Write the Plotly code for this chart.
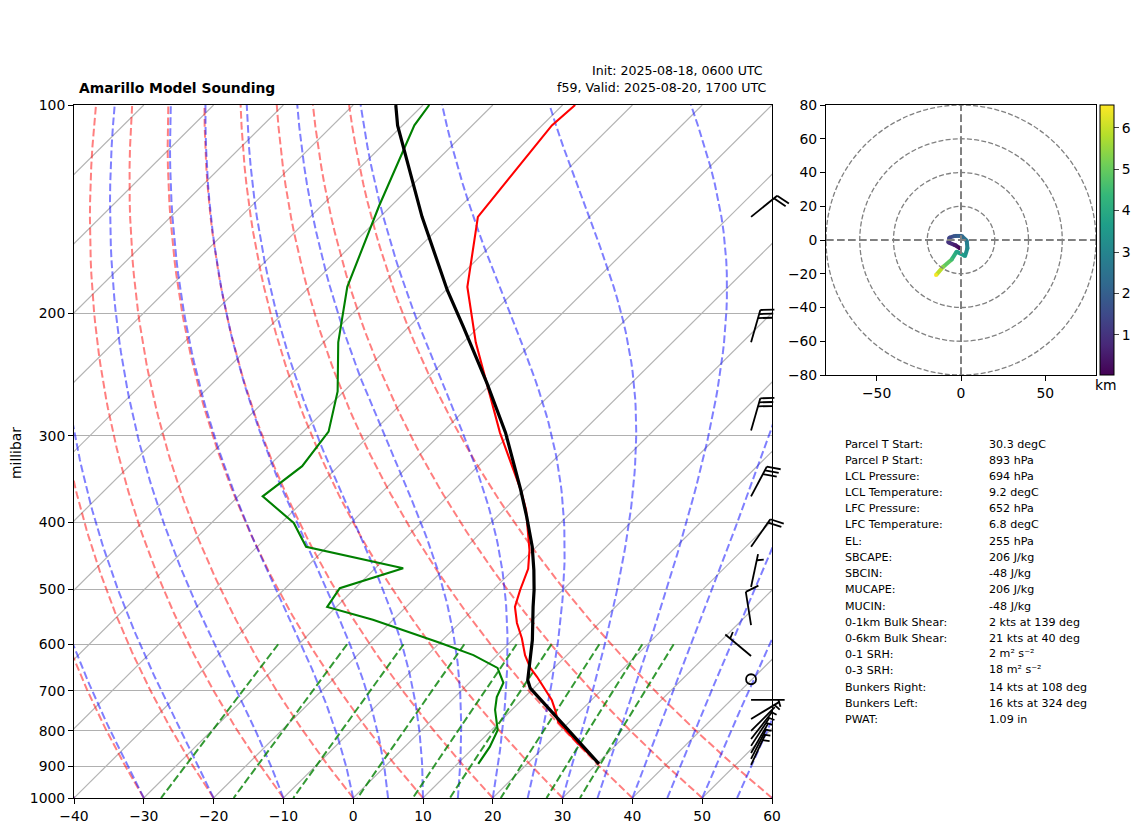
import numpy as np
import plotly.graph_objects as go
from plotly.colors import sample_colorscale

W, H = 1142, 832
FONT = "DejaVu Sans"

## sounding values
temp_p = [893, 833, 777, 746, 722, 669, 649, 622, 588, 559, 530, 501, 467, 439, 384, 359, 297, 252, 220, 183, 145, 107, 100]
temp_t = [30.3, 24.2, 18.4, 16.2, 14.3, 8.9, 6.6, 4.0, 1.1, -1.8, -4.4, -6.1, -8.0, -10.5, -16.8, -20.5, -31.7, -40.7, -48.2, -57.4, -66.0, -68.6, -68.2]

dewp_p = [893, 844, 798, 746, 715, 682, 649, 622, 597, 553, 530, 498, 466, 434, 401, 367, 332, 296, 259, 220, 183, 140, 107, 100]
dewp_t = [13.0, 12.2, 10.9, 7.6, 6.0, 4.9, 1.9, -3.4, -10.0, -22.9, -31.3, -32.2, -26.0, -43.0, -48.2, -56.5, -55.2, -56.4, -60.9, -67.9, -74.6, -81.7, -88.3, -89.1]

parcel_p = [893, 694, 676, 592, 530, 501, 469, 434, 393, 359, 297, 252, 209, 185, 145, 115, 107, 100]
parcel_t = [30.3, 9.5, 8.0, 2.9, -1.8, -4.1, -7.0, -10.6, -15.7, -20.5, -30.9, -40.7, -52.2, -59.8, -74.0, -86.8, -90.7, -93.9]

## wind barbs: pressure, speed in kts, direction in deg
barb_p = [145, 220, 295, 367, 434, 496, 563, 624, 674, 722, 769, 800, 822, 841, 861, 878, 896]
barb_spd = [20, 30, 30, 30, 20, 5, 10, 5, 0, 5, 5, 5, 5, 5, 5, 5, 5]
barb_dir = [51, 16, 16, 28, 35, 12, 351, 310, 0, 90, 59, 45, 38, 33, 30, 27, 25]

## hodograph
hodo_u = [-0.6, -3.6, -7.5, -6.9, -3.6, 0.4, 3.4, 3.8, 2.4, -2.6, -5.5, -10.5, -14.8]
hodo_v = [-4.9, -3.0, -1.4, 1.4, 2.4, 2.4, -0.4, -4.9, -9.5, -6.9, -11.5, -15.8, -20.8]
hodo_h = [0.05, 0.5, 1.0, 1.4, 1.8, 2.2, 2.7, 3.1, 3.5, 3.8, 4.5, 5.3, 6.5]
hodo_rings = [20, 40, 60, 80]
hodo_cmin, hodo_cmax = 0.03, 6.55

## start values of the thermodynamic reference curves
dry_t0 = list(range(-40, 61, 10))
moist_t0 = [-40, -30, -20, -10, 0, 5, 10, 15, 20, 25, 30, 35, 40, 45, 50, 55, 60]
mix_w = [0.0004, 0.001, 0.002, 0.004, 0.007, 0.01, 0.016, 0.024, 0.032]
isotherm_t = list(range(-140, 61, 10))

p_ticks = [100, 200, 300, 400, 500, 600, 700, 800, 900, 1000]
t_ticks = list(range(-40, 61, 10))

table_names = ["Parcel T Start:", "Parcel P Start:", "LCL Pressure:", "LCL Temperature:", "LFC Pressure:",
               "LFC Temperature:", "EL:", "SBCAPE:", "SBCIN:", "MUCAPE:", "MUCIN:", "0-1km Bulk Shear:",
               "0-6km Bulk Shear:", "0-1 SRH:", "0-3 SRH:", "Bunkers Right:", "Bunkers Left:", "PWAT:"]
table_vals = ["30.3 degC", "893 hPa", "694 hPa", "9.2 degC", "652 hPa", "6.8 degC", "255 hPa", "206 J/kg", "-48 J/kg",
              "206 J/kg", "-48 J/kg", "2 kts at 139 deg", "21 kts at 40 deg", "2 m² s⁻²", "18 m² s⁻²",
              "14 kts at 108 deg", "16 kts at 324 deg", "1.09 in"]
table_px = [444, 460, 476, 492, 508, 524, 541, 557, 573, 589, 606, 622, 638, 654, 670, 687, 703, 719]
table_val_px = [444, 460, 476, 492, 508, 524, 541, 557, 573, 589, 606, 622, 638, 653, 669, 687, 703, 719]

SKEW = 100.0  # degC shifted per decade of pressure


def skew_x(t, p):
    return np.asarray(t, dtype=float) + SKEW * np.log10(1000.0 / np.asarray(p, dtype=float))


def px(x):
    return x / W


def py(y):
    return 1 - y / H


## saturation mixing ratio, bolton
def sat_w(t_k, p):
    tc = t_k - 273.15
    e = 6.112 * np.exp(17.67 * tc / (tc + 243.5))
    return 0.622 * e / (p - e)


## moist adiabat stepped up from 1000 mb, same equation metpy uses
def moist_curve(t0, levels):
    out = [t0 + 273.15]
    for p1, p2 in zip(levels[:-1], levels[1:]):
        t = out[-1]
        rs = sat_w(t, p1)
        lv = 2.501e6
        dt = (287.05 * t + lv * rs) / (1005.7 + lv * lv * rs * 0.622 / (287.05 * t * t)) / p1
        out.append(t + dt * (p2 - p1))
    return np.array(out) - 273.15


def join_curves(curves):
    xs, ys = [], []
    for cx, cy in curves:
        xs += [float(v) for v in cx] + [None]
        ys += [float(v) for v in cy] + [None]
    return xs, ys


fig = go.Figure()

## isotherms
iso_p = np.array([1000.0, 100.0])
xs, ys = join_curves([(skew_x([t, t], iso_p), iso_p) for t in isotherm_t])
fig.add_trace(go.Scatter(x=xs, y=ys, mode="lines", line=dict(color="#b4b4b4", width=1.2)))

## dry adiabats
levels = np.linspace(1000, 100, 120)
xs, ys = join_curves([(skew_x((t + 273.15) * (levels / 1000.0) ** 0.2857 - 273.15, levels), levels) for t in dry_t0])
fig.add_trace(go.Scatter(x=xs, y=ys, mode="lines", line=dict(color="rgba(255,0,0,0.5)", width=2, dash="7.7px,3.3px")))

## moist adiabats
fine = np.linspace(1000, 100, 601)
curves = []
for t in moist_t0:
    curves.append((skew_x(moist_curve(t, fine), fine)[::5], fine[::5]))
xs, ys = join_curves(curves)
fig.add_trace(go.Scatter(x=xs, y=ys, mode="lines", line=dict(color="rgba(0,0,255,0.5)", width=2, dash="7.7px,3.3px")))

## mixing ratio lines
mix_p = np.linspace(600, 1000, 30)
curves = []
for w in mix_w:
    e = w * mix_p / (0.622 + w)
    v = np.log(e / 6.112)
    curves.append((skew_x(243.5 * v / (17.67 - v), mix_p), mix_p))
xs, ys = join_curves(curves)
fig.add_trace(go.Scatter(x=xs, y=ys, mode="lines", line=dict(color="rgba(0,128,0,0.8)", width=2, dash="7.7px,3.3px")))

## the sounding
fig.add_trace(go.Scatter(x=skew_x(temp_t, temp_p), y=temp_p, mode="lines", line=dict(color="#ff0000", width=2.1)))
fig.add_trace(go.Scatter(x=skew_x(dewp_t, dewp_p), y=dewp_p, mode="lines", line=dict(color="#008000", width=2.1)))
fig.add_trace(go.Scatter(x=skew_x(parcel_t, parcel_p), y=parcel_p, mode="lines", line=dict(color="#000000", width=3.2)))

## barbs sit on an overlay axis counted in pixels so they can stick out of the frame
L = 33.6
bx, by = [], []
calm_x, calm_y = [], []
for p, spd, d in zip(barb_p, barb_spd, barb_dir):
    x0 = 0.97 * 698
    y0 = 693 * np.log10(1000.0 / p)
    if spd == 0:
        calm_x.append(x0)
        calm_y.append(y0)
        continue
    sx, sy = np.sin(np.radians(d)), np.cos(np.radians(d))
    nx, ny = sy, -sx  # clockwise side of the staff
    tipx, tipy = x0 + L * sx, y0 + L * sy
    bx += [x0, tipx, None]
    by += [y0, tipy, None]
    full = spd // 10
    half = (spd % 10) >= 5
    off = 0.0
    for i in range(full):
        ax, ay = tipx - off * sx, tipy - off * sy
        bx += [ax, ax + 0.4 * L * nx + 0.125 * L * sx, None]
        by += [ay, ay + 0.4 * L * ny + 0.125 * L * sy, None]
        off += 0.125 * L
    if half:
        if full == 0:
            off = 1.5 * 0.125 * L
        ax, ay = tipx - off * sx, tipy - off * sy
        bx += [ax, ax + 0.2 * L * nx + 0.0625 * L * sx, None]
        by += [ay, ay + 0.2 * L * ny + 0.0625 * L * sy, None]
fig.add_trace(go.Scatter(x=bx, y=by, mode="lines", xaxis="x3", yaxis="y3", line=dict(color="black", width=1.8)))
fig.add_trace(go.Scatter(x=calm_x, y=calm_y, mode="markers", xaxis="x3", yaxis="y3",
                         marker=dict(symbol="circle-open", size=10, color="black", line=dict(color="black", width=1.8))))

## hodograph coloured by height
for i in range(len(hodo_h) - 1):
    frac = (0.5 * (hodo_h[i] + hodo_h[i + 1]) - hodo_cmin) / (hodo_cmax - hodo_cmin)
    col = sample_colorscale("Viridis", [frac])[0]
    fig.add_trace(go.Scatter(x=hodo_u[i:i + 2], y=hodo_v[i:i + 2], mode="lines", xaxis="x2", yaxis="y2",
                             line=dict(color=col, width=4)))
fig.add_trace(go.Scatter(x=hodo_u, y=hodo_v, mode="markers", xaxis="x2", yaxis="y2",
                         marker=dict(size=4, color=hodo_h, colorscale="Viridis", cmin=hodo_cmin, cmax=hodo_cmax,
                                     colorbar=dict(x=px(1100), xanchor="left", xpad=0, y=py(375), yanchor="bottom", ypad=0,
                                                   len=270 / H, lenmode="fraction", thickness=14, outlinewidth=1,
                                                   outlinecolor="black", tickvals=[1, 2, 3, 4, 5, 6], ticks="outside",
                                                   ticklen=5, tickwidth=1, tickfont=dict(size=13.9, color="black")))))

shapes = []
for r in hodo_rings:
    shapes.append(dict(type="circle", xref="x2", yref="y2", x0=-r, x1=r, y0=-r, y1=r,
                       line=dict(color="#808080", width=1.3, dash="5px,2.2px")))
for key in [dict(x0=-80, x1=80, y0=0, y1=0), dict(x0=0, x1=0, y0=-80, y1=80)]:
    shapes.append(dict(type="line", xref="x2", yref="y2", line=dict(color="#808080", width=2, dash="7.7px,3.3px"), **key))

notes = []


def note(x, y, text, size=11.1, anchor="left", **kw):
    notes.append(dict(x=px(x), y=py(y), xref="paper", yref="paper", text=text, showarrow=False, xanchor=anchor,
                      yanchor="middle", font=dict(size=size, color="black", family=FONT), **kw))


for name, y in zip(table_names, table_px):
    note(843, y, name)
for val, y in zip(table_vals, table_val_px):
    note(987, y, val)
note(77, 88, "<b>Amarillo Model Sounding</b>", size=13.9)
note(765, 70, "Init: 2025-08-18, 0600 UTC", size=12.6, anchor="right")
note(768, 88, "f59, Valid: 2025-08-20, 1700 UTC", size=12.6, anchor="right")
note(16, 453, "millibar", size=13.9, anchor="center", textangle=-90)
note(1106, 385, "km", size=13.9, anchor="center")

axis_style = dict(showline=True, linecolor="black", linewidth=1, mirror=True, ticks="outside", ticklen=5, tickwidth=1,
                  tickcolor="black", zeroline=False, tickfont=dict(size=13.9, color="black"))

fig.update_layout(
    width=W, height=H, margin=dict(l=0, r=0, t=0, b=0, autoexpand=False), paper_bgcolor="white", plot_bgcolor="rgba(0,0,0,0)",
    showlegend=False, hovermode=False, font=dict(family=FONT, color="black"), shapes=shapes, annotations=notes,
    xaxis=dict(domain=[px(74), px(772)], range=[-40, 60], tickvals=t_ticks, showgrid=False, anchor="y", **axis_style),
    yaxis=dict(domain=[py(798), py(105)], type="log", range=[3, 2], tickvals=p_ticks, ticktext=[str(v) for v in p_ticks],
               tickmode="array", showgrid=True, gridcolor="#b0b0b0", gridwidth=1.4, anchor="x", **axis_style),
    xaxis2=dict(domain=[px(826), px(1096)], range=[-80, 80], tickvals=[-50, 0, 50], showgrid=False, anchor="y2", **axis_style),
    yaxis2=dict(domain=[py(375), py(105)], range=[-80, 80], tickvals=list(range(-80, 81, 20)), showgrid=False, anchor="x2", **axis_style),
    xaxis3=dict(domain=[px(74), px(800)], range=[0, 726], visible=False, anchor="y3"),
    yaxis3=dict(domain=[py(798), py(105)], range=[0, 693], visible=False, anchor="x3"),
)

fig.write_html("out.html", config=dict(displayModeBar=False), post_script="document.body.style.margin='0';")
